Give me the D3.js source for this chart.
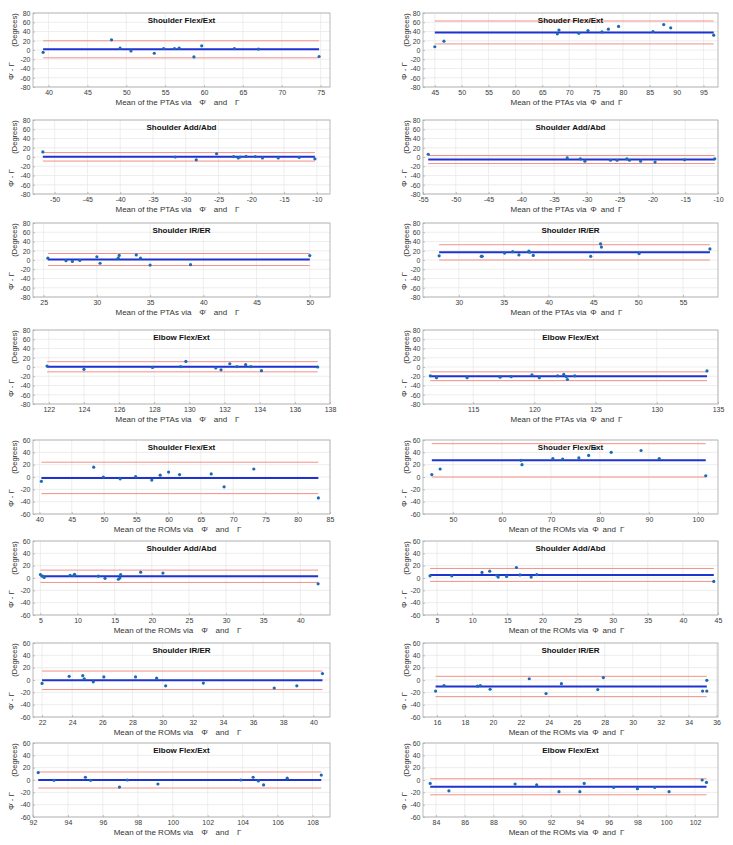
<!DOCTYPE html>
<html><head><meta charset="utf-8">
<script src="https://cdn.jsdelivr.net/npm/d3@7"></script>
<style>
html,body{margin:0;padding:0;background:#fff;}
text{font-family:"Liberation Sans",Arial,Helvetica,sans-serif;}
</style></head>
<body>
<script>
// ---------- data ----------
const titles = ["Shoulder Flex/Ext","Shouder Flex/Ext","Shoulder Add/Abd","Shoulder Add/Abd",
  "Shoulder IR/ER","Shoulder IR/ER","Elbow Flex/Ext","Elbow Flex/Ext",
  "Shoulder Flex/Ext","Shouder Flex/Ext","Shoulder Add/Abd","Shoulder Add/Abd",
  "Shoulder IR/ER","Shoulder IR/ER","Elbow Flex/Ext","Elbow Flex/Ext"];
const measureNames = ["PTAs","PTAs","PTAs","PTAs","PTAs","PTAs","PTAs","PTAs",
  "ROMs","ROMs","ROMs","ROMs","ROMs","ROMs","ROMs","ROMs"];

// PTAs (row-major: left, right)
const p1x=[39.3,48.1,49.2,50.6,53.6,54.8,56.2,56.8,58.7,59.7,63.9,67.0,74.8];
const p1y=[-5,22,4,-2,-7,3,3,4,-15,9,3,2,-14];
const p2x=[45.0,46.7,67.8,68.1,71.8,73.5,76.1,77.3,79.2,85.6,87.6,88.9,96.9];
const p2y=[7,19,35,43,36,42,39,45,51,40,55,48,32];
const p3x=[-51.8,-31.6,-28.4,-25.3,-22.7,-22.0,-21.7,-20.8,-19.4,-18.3,-15.9,-12.7,-10.3];
const p3y=[11,0,-6,7,1,-2,0,1.5,1,-2,-2,-1,-4];
const p4x=[-54.2,-33.0,-31.0,-30.3,-26.4,-25.4,-23.9,-23.5,-21.8,-19.6,-15.1,-10.5];
const p4y=[6,-2,-4,-9,-7,-7,-4,-7,-9,-11,-6,-4];
const p5x=[25.4,27.1,27.7,28.4,30.0,30.3,32.0,32.1,33.7,34.1,35.0,38.8,50.0];
const p5y=[4,-1.5,-3,-1,7,-7,4,10,11,4,-11,-10,9.5];
const p6x=[27.8,32.5,32.6,35.1,36.0,36.7,37.8,37.9,38.3,44.7,45.8,45.9,50.1,58.0];
const p6y=[9,8,8,15,18,11,19,17,10,8,35,28,14,24];
const p7x=[121.9,124.0,127.9,129.5,129.8,131.5,131.8,132.3,132.7,133.2,133.5,134.1,137.3];
const p7y=[2,-5,-1,1,12,-2,-6,7,1,5,1,-8,0];
const p8x=[111.5,112.0,114.5,117.2,118.1,119.8,120.4,121.9,122.4,122.6,122.7,123.3,134.1];
const p8y=[-19,-23,-23,-22,-21,-17,-23,-19,-16,-21,-27,-19,-8.5];
// ROMs (row-major: left, right)
const p9x=[40.3,48.4,49.9,52.5,54.9,57.4,58.7,60.0,61.7,66.6,68.6,73.2,83.2];
const p9y=[-7,16,0,-3,0.5,-5,3,8,4,5,-16,13,-34];
const p10x=[45.7,47.4,63.9,64.1,70.4,72.4,75.7,77.7,79.0,82.3,88.4,92.1,101.6];
const p10y=[4,13,27,20,30,29,31,35,47,40,43,30,2];
const p11x=[5.0,5.3,5.5,9.0,9.5,9.6,12.8,13.7,15.5,15.7,15.8,18.5,21.5,42.4];
const p11y=[5.5,3,1,4.5,4,6,3,-0.5,-2,0,5.5,9.5,8,-9.5];
const p12x=[4.0,7.1,11.4,12.5,13.5,13.7,14.9,16.3,16.8,18.4,19.2,44.4];
const p12y=[3.5,3.5,9,11,4.5,1.5,2.5,17,5,1.5,5.5,-5.5];
const p13x=[22.0,23.8,24.7,24.8,25.4,26.1,28.2,29.6,30.2,32.7,37.4,38.9,40.6];
const p13y=[-5.5,6,7,2,-3,5,5,3,-9.5,-5,-13,-9.5,10.5];
const p14x=[15.9,16.5,18.9,19.1,19.8,22.6,23.8,24.9,27.5,27.9,35.0,35.3,35.3];
const p14y=[-18,-9,-10,-9,-15,2,-22,-6,-15.5,4,-18,-18,-0.5];
const p15x=[92.3,93.2,95.0,95.3,96.95,97.4,99.15,103.9,104.6,104.9,105.2,106.55,108.5];
const p15y=[12,-0.5,4.5,-0.5,-11.5,0,-6.5,0,4.5,-1.5,-8,3,8];
const p16x=[83.6,84.9,89.5,91.0,92.55,94.0,94.3,96.35,98.0,99.2,100.2,102.5,102.8];
const p16y=[-5.5,-17.5,-6.5,-8,-19,-19,-5.5,-12,-14,-12,-19,0,-4];

const meanBias = [1.5,37.9,0.3,-5.5,1.2,16.5,0.5,-20,-1.5,27,2.8,5,-0.5,-10.5,0,-11];
const upperLoA = [19.9,62.7,9.5,3.2,14,33,11.5,-10.5,24,54,12.8,15.5,14.5,6,13,2];
const lowerLoA = [-16.9,13.1,-8.8,-14.2,-12,0,-10.5,-29.5,-27,0,-7.2,-5.5,-15.5,-27,-13,-24];

const xTicks = [
  [40,45,50,55,60,65,70,75],[45,50,55,60,65,70,75,80,85,90,95],
  [-50,-45,-40,-35,-30,-25,-20,-15,-10],[-55,-50,-45,-40,-35,-30,-25,-20,-15,-10],
  [25,30,35,40,45,50],[30,35,40,45,50,55],
  [122,124,126,128,130,132,134,136,138],[115,120,125,130,135],
  [40,45,50,55,60,65,70,75,80,85],[50,60,70,80,90,100],
  [5,10,15,20,25,30,35,40],[5,10,15,20,25,30,35,40,45],
  [22,24,26,28,30,32,34,36,38,40],[16,18,20,22,24,26,28,30,32,34,36],
  [92,94,96,98,100,102,104,106,108],[84,86,88,90,92,94,96,98,100,102]];
const yTicksPTA = [-80,-60,-40,-20,0,20,40,60,80];
const yTicksROM = [-60,-40,-20,0,20,40,60];

const xs=[p1x,p2x,p3x,p4x,p5x,p6x,p7x,p8x,p9x,p10x,p11x,p12x,p13x,p14x,p15x,p16x];
const ys=[p1y,p2y,p3y,p4y,p5y,p6y,p7y,p8y,p9y,p10y,p11y,p12y,p13y,p14y,p15y,p16y];

// axis limits (layout)
const xLims = [[38,76.2],[42.8,97.7],[-53.3,-8],[-55,-10],[24,51.9],[26,58.9],[121.1,138],[110.9,135],
  [39,85],[43.9,104.1],[4,44],[3,45],[21.4,41.1],[15,36.1],[92,109],[83.1,103.6]];

// ---------- layout ----------
const W=733,H=845;
const colX=[[33,330],[423,718]];
const rowTop=[13,120,223,330,440,541,643,743];
const PH=74;
const svg=d3.select("body").append("svg").attr("width",W).attr("height",H);
svg.append("rect").attr("width",W).attr("height",H).attr("fill","#fff");

const PHI_DOT="\u03A6\u0307", PHI="\u03A6", GAMMA="\u0393";

xs.forEach((xv,i)=>{
  const r=Math.floor(i/2), c=i%2;
  const left=colX[c][0], w=colX[c][1]-colX[c][0], top=rowTop[r];
  const g=svg.append("g").attr("transform",`translate(${left},${top})`);
  const yt = r<4 ? yTicksPTA : yTicksROM;
  const x=d3.scaleLinear().domain(xLims[i]).range([0,w]);
  const y=d3.scaleLinear().domain([yt[0],yt[yt.length-1]]).range([PH,0]);
  const yv=ys[i];

  // grid
  g.append("g").selectAll("line").data(xTicks[i]).join("line")
    .attr("x1",d=>x(d)).attr("x2",d=>x(d)).attr("y1",0).attr("y2",PH)
    .attr("stroke","#e6e6e6").attr("stroke-width",0.7);
  g.append("g").selectAll("line").data(yt).join("line")
    .attr("x1",0).attr("x2",w).attr("y1",d=>y(d)).attr("y2",d=>y(d))
    .attr("stroke","#e6e6e6").attr("stroke-width",0.7);

  // axes labels
  const ax=g.append("g").attr("transform",`translate(0,${PH})`)
    .call(d3.axisBottom(x).tickValues(xTicks[i]).tickSizeInner(-2).tickSizeOuter(0).tickPadding(3)
      .tickFormat(d=>d<0?"-"+Math.abs(d):d));
  const ay=g.append("g")
    .call(d3.axisLeft(y).tickValues(yt).tickSizeInner(-2).tickSizeOuter(0).tickPadding(2.5)
      .tickFormat(d=>d<0?"-"+Math.abs(d):d));
  [ax,ay].forEach(a=>{
    a.select(".domain").remove();
    a.selectAll(".tick line").attr("stroke","#9a9a9a").attr("stroke-width",0.6);
    a.selectAll(".tick text").attr("fill","#3a3a3a").style("font-size","7px")
      .style("font-family",'"Liberation Sans",Arial,sans-serif');
  });

  // frame
  g.append("rect").attr("width",w).attr("height",PH).attr("fill","none")
    .attr("stroke","#a9a9a9").attr("stroke-width",0.8);

  const xmin=d3.min(xv), xmax=d3.max(xv);
  // limits of agreement
  [upperLoA[i],lowerLoA[i]].forEach(v=>{
    g.append("line").attr("x1",x(xmin)).attr("x2",x(xmax)).attr("y1",y(v)).attr("y2",y(v))
      .attr("stroke","#f29088").attr("stroke-width",1);
  });
  // mean line
  g.append("line").attr("x1",x(xmin)).attr("x2",x(xmax))
    .attr("y1",y(meanBias[i])).attr("y2",y(meanBias[i]))
    .attr("stroke","#1f33d0").attr("stroke-width",2);
  // points
  g.append("g").selectAll("circle").data(xv.map((d,k)=>[d,yv[k]])).join("circle")
    .attr("cx",d=>x(d[0])).attr("cy",d=>y(d[1])).attr("r",1.6).attr("fill","#1b6ab5");

  // title
  g.append("text").attr("x",w/2).attr("y",9.5).attr("text-anchor","middle")
    .style("font-size","8px").style("font-weight","bold").attr("fill","#111").text(titles[i]);

  // x label
  const phi = c===0 ? PHI_DOT : PHI;
  const gap = c===0 ? "\u2002\u2002" : "\u2002";
  g.append("text").attr("x",w/2-4).attr("y",PH+17.5).attr("text-anchor","middle")
    .style("font-size","8px").attr("fill","#333")
    .text(`Mean of the ${measureNames[i]} via${gap}${phi}${gap}and${gap}${GAMMA}`);

  // y label (two parts)
  const ylx = c===0 ? -16 : -14.5;
  g.append("text").attr("transform",`translate(${ylx},17) rotate(-90)`).attr("text-anchor","middle")
    .style("font-size","7.5px").attr("fill","#333").text("(Degrees)");
  g.append("text").attr("transform",`translate(${c===0?-19:-16.5},58) rotate(-90)`).attr("text-anchor","middle")
    .style("font-size","8px").attr("fill","#333").text(`${phi} - ${GAMMA}`);
});
</script>
</body></html>
